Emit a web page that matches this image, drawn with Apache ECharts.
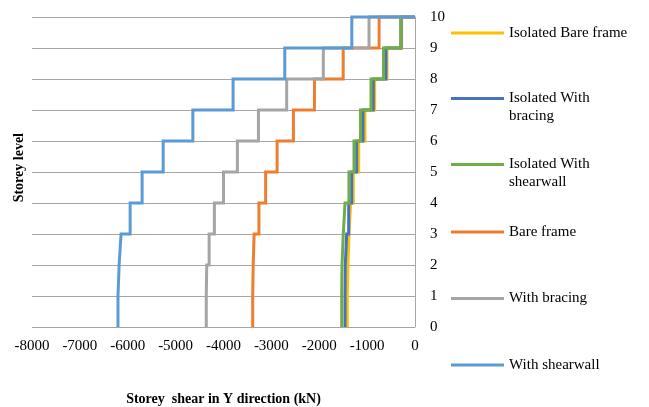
<!DOCTYPE html>
<html>
<head>
<meta charset="utf-8">
<script src="https://cdn.jsdelivr.net/npm/echarts@6/dist/echarts.min.js"></script>
<style>
  html, body { margin: 0; padding: 0; background: #fff; }
  #chart { width: 649px; height: 407px; }
</style>
</head>
<body>
<div id="chart"></div>
<script>
// Storey shear (kN) for storeys 1..10, per structural model
const storeys = [1, 2, 3, 4, 5, 6, 7, 8, 9, 10];
const isolatedBareFrame = [-1414, -1400, -1379, -1343, -1289, -1176, -1045, -842, -585, -280];
const isolatedWithBracing = [-1462, -1456, -1427, -1385, -1322, -1218, -1086, -871, -606, -290];
const isolatedWithShearwall = [-1531, -1525, -1498, -1462, -1379, -1274, -1138, -919, -658, -299];
const bareFrame = [-3390, -3380, -3360, -3260, -3120, -2880, -2540, -2100, -1500, -750];
const withBracing = [-4360, -4350, -4300, -4190, -4000, -3710, -3270, -2680, -1915, -960];
const withShearwall = [-6204, -6180, -6140, -5950, -5700, -5260, -4640, -3800, -2720, -1320];

const seriesNames = ['Isolated Bare frame', 'Isolated With bracing', 'Isolated With shearwall',
                     'Bare frame', 'With bracing', 'With shearwall'];
const legendLabels = ['Isolated Bare frame', 'Isolated With\nbracing', 'Isolated With\nshearwall',
                      'Bare frame', 'With bracing', 'With shearwall'];
const seriesValues = [isolatedBareFrame, isolatedWithBracing, isolatedWithShearwall,
                      bareFrame, withBracing, withShearwall];
const seriesColors = ['#FFC000', '#4472C4', '#70AD47', '#ED7D31', '#A5A5A5', '#5B9BD5'];

const xTicks = { min: -8000, max: 0, interval: 1000 };
const yTicks = { min: 0, max: 10, interval: 1 };

const FONT = "'Liberation Serif', 'Times New Roman', serif";

// Each storey's shear is held constant between the floor below and the floor above,
// then the profile closes at zero shear on the roof level.
function stepPoints(values) {
  const pts = [];
  values.forEach((v, i) => {
    pts.push([v, storeys[i] - 1]);
    pts.push([v, storeys[i]]);
  });
  pts.push([0, storeys[storeys.length - 1]]);
  return pts;
}

const legendCentres = [32, 98.5, 164.5, 231, 297.5, 364];

const legends = seriesNames.map((name, i) => {
  const twoLine = legendLabels[i].indexOf('\n') >= 0;
  return {
    data: [name],
    left: 451,
    top: twoLine ? legendCentres[i] - 9 : legendCentres[i] - 8,
    padding: 0,
    itemWidth: 53,
    itemHeight: twoLine ? 21 : 3,
    itemGap: 5,
    icon: twoLine ? 'path://M0,0H53V3H0Z M0,20.9H0.1V21H0Z' : 'path://M0,0H53V3H0Z',
    formatter: () => legendLabels[i],
    textStyle: { fontFamily: FONT, fontSize: 15, color: '#000', lineHeight: 18 },
    selectedMode: false
  };
});

const chart = echarts.init(document.getElementById('chart'), null, { renderer: 'canvas' });
chart.setOption({
  animation: false,
  backgroundColor: '#fff',
  grid: { left: 32, right: 234, top: 17, bottom: 80, containLabel: false, outerBoundsMode: 'none' },
  legend: legends,
  xAxis: {
    type: 'value',
    min: xTicks.min, max: xTicks.max, interval: xTicks.interval,
    name: 'Storey  shear in Y direction (kN)',
    nameLocation: 'middle',
    nameGap: 65,
    nameTextStyle: { fontFamily: FONT, fontSize: 14, fontWeight: 'bold', color: '#000' },
    axisLine: { show: false },
    axisTick: { show: false },
    splitLine: { show: false },
    axisLabel: { fontFamily: FONT, fontSize: 15, color: '#000', margin: 12,
                 formatter: (v) => String(v) }
  },
  yAxis: {
    type: 'value',
    position: 'right',
    min: yTicks.min, max: yTicks.max, interval: yTicks.interval,
    axisLine: { show: true, lineStyle: { color: '#A6A6A6', width: 1 } },
    axisTick: { show: false },
    splitLine: { show: true, lineStyle: { color: '#A6A6A6', width: 1 } },
    axisLabel: { fontFamily: FONT, fontSize: 15, color: '#000', margin: 15 }
  },
  graphic: [{
    type: 'text',
    left: 12,
    top: 133,
    rotation: Math.PI / 2,
    style: {
      text: 'Storey level',
      font: 'bold 14px ' + FONT,
      fill: '#000'
    }
  }],
  series: seriesNames.map((name, i) => ({
    name: name,
    type: 'line',
    data: stepPoints(seriesValues[i]),
    color: seriesColors[i],
    showSymbol: false,
    symbol: 'none',
    clip: false,
    lineStyle: { color: seriesColors[i], width: 3, join: 'miter' },
    emphasis: { disabled: true }
  }))
});
</script>
</body>
</html>
